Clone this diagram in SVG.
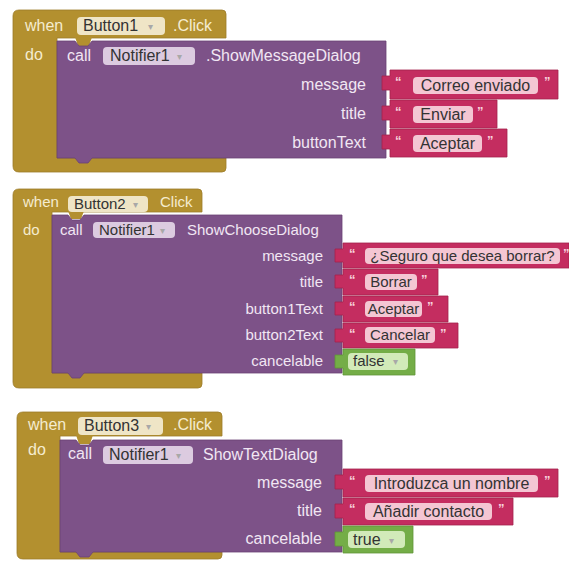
<svg xmlns="http://www.w3.org/2000/svg" width="569" height="563" viewBox="0 0 569 563">
<style>
.gold{fill:#b3902f;stroke:#9c7b28;stroke-width:0.8}
.purple{fill:#7d5288;stroke:#6a4375;stroke-width:0.8}
.pink{fill:#c42d60;stroke:#a3224c;stroke-width:0.8}
.green{fill:#74ad47;stroke:#5f9638;stroke-width:0.8}
.gfield{fill:#efe5c6}
.pfield{fill:#dccbe0}
.kfield{fill:#f4c6d3}
.lfield{fill:#d2eab9}
text{font-family:"Liberation Sans",Arial,sans-serif}
.s16{font-size:16px}
.s15{font-size:15px}
.gt{fill:#f5ecd0}
.pt{fill:#f1e6f3}
.dt{fill:#333333}
.q{fill:#f8d3dd;font-size:13px;font-weight:bold}
.arr{fill:#a8a8a8;font-size:10px}
.end{text-anchor:end}
.mid{text-anchor:middle}
</style>

<g id="event1">
<path class="gold" d="M19,10 H222 Q226,10 226,14 V38 H57 V158 H226 V168 Q226,172 222,172 H19 Q13,172 13,166 V16 Q13,10 19,10 Z"/>
<path fill="#b3902f" d="M75,37 H92 L89,46 H78 Z"/>
<text class="s16 gt" x="25" y="31">when</text>
<rect class="gfield" x="77" y="17" width="88" height="18" rx="4"/>
<text class="s16 dt" x="83" y="31">Button1</text>
<text class="arr" x="148" y="30">▾</text>
<text class="s16 gt" x="173" y="31">.Click</text>
<text class="s16 gt" x="25" y="60">do</text>
</g>
<g id="call1">
<path class="purple" d="M57,41 H75 L79,46 H88 L92,41 H386 V158 H92 L88,163 H79 L75,158 H57 Z"/>
<text class="s16 pt" x="67" y="61">call</text>
<rect class="pfield" x="103" y="47" width="92" height="18" rx="4"/>
<text class="s16 dt" x="110" y="61">Notifier1</text>
<text class="arr" x="177" y="60">▾</text>
<text class="s16 pt" x="206" y="61">.ShowMessageDialog</text>
<text class="s16 pt end" x="366" y="90">message</text>
<text class="s16 pt end" x="366" y="119">title</text>
<text class="s16 pt end" x="366" y="148">buttonText</text>
</g>
<g id="text1a">
<path class="pink" d="M390,70 H558 V99 H390 V90 H382 V76 H390 Z"/>
<text class="q" x="395" y="86">“</text>
<rect class="kfield" x="413" y="77" width="125" height="17" rx="4"/>
<text class="s16 dt mid" x="475.5" y="91">Correo enviado</text>
<text class="q" x="544" y="86">”</text>
</g>
<g id="text1b">
<path class="pink" d="M390,100 H497 V128 H390 V120 H382 V106 H390 Z"/>
<text class="q" x="395" y="116">“</text>
<rect class="kfield" x="413" y="106" width="60" height="17" rx="4"/>
<text class="s16 dt mid" x="443" y="120">Enviar</text>
<text class="q" x="477" y="116">”</text>
</g>
<g id="text1c">
<path class="pink" d="M390,129 H507 V157 H390 V149 H382 V135 H390 Z"/>
<text class="q" x="395" y="145">“</text>
<rect class="kfield" x="413" y="135" width="69" height="17" rx="4"/>
<text class="s16 dt mid" x="447.5" y="149">Aceptar</text>
<text class="q" x="487" y="145">”</text>
</g>

<g id="event2">
<path class="gold" d="M19,189 H198 Q202,189 202,193 V212 H52 V373 H202 V384 Q202,388 198,388 H19 Q13,388 13,382 V195 Q13,189 19,189 Z"/>
<path fill="#b3902f" d="M68,211 H84 L81,219 H71 Z"/>
<text class="s15 gt" x="23" y="207">when</text>
<rect class="gfield" x="68" y="196" width="80" height="16" rx="4"/>
<text class="s15 dt" x="74" y="209">Button2</text>
<text class="arr" x="133" y="208">▾</text>
<text class="s15 gt" x="160" y="207">Click</text>
<text class="s15 gt" x="23" y="235">do</text>
</g>
<g id="call2">
<path class="purple" d="M52,215 H68 L72,220 H80 L84,215 H342 V373 H84 L80,378 H72 L68,373 H52 Z"/>
<text class="s15 pt" x="60" y="235">call</text>
<rect class="pfield" x="93" y="222" width="82" height="16" rx="4"/>
<text class="s15 dt" x="99" y="235">Notifier1</text>
<text class="arr" x="160" y="234">▾</text>
<text class="s15 pt" x="187" y="235">ShowChooseDialog</text>
<text class="s15 pt end" x="323" y="261">message</text>
<text class="s15 pt end" x="323" y="287">title</text>
<text class="s15 pt end" x="323" y="314">button1Text</text>
<text class="s15 pt end" x="323" y="340">button2Text</text>
<text class="s15 pt end" x="323" y="366">cancelable</text>
</g>
<g id="text2a">
<path class="pink" d="M343,243 H569 V268 H343 V262 H335 V249 H343 Z"/>
<text class="q" x="349" y="258">“</text>
<rect class="kfield" x="365" y="248" width="195" height="16" rx="4"/>
<text class="s15 dt mid" x="462.5" y="261">¿Seguro que desea borrar?</text>
<text class="q" x="563" y="258">”</text>
</g>
<g id="text2b">
<path class="pink" d="M343,269 H438 V295 H343 V288 H335 V275 H343 Z"/>
<text class="q" x="349" y="284">“</text>
<rect class="kfield" x="365" y="274" width="52" height="16" rx="4"/>
<text class="s15 dt mid" x="391" y="287">Borrar</text>
<text class="q" x="421" y="284">”</text>
</g>
<g id="text2c">
<path class="pink" d="M343,296 H448 V322 H343 V315 H335 V302 H343 Z"/>
<text class="q" x="349" y="311">“</text>
<rect class="kfield" x="365" y="301" width="57" height="16" rx="4"/>
<text class="s15 dt mid" x="393.5" y="314">Aceptar</text>
<text class="q" x="427" y="311">”</text>
</g>
<g id="text2d">
<path class="pink" d="M343,323 H458 V348 H343 V342 H335 V329 H343 Z"/>
<text class="q" x="349" y="338">“</text>
<rect class="kfield" x="365" y="327" width="70" height="16" rx="4"/>
<text class="s15 dt mid" x="400" y="340">Cancelar</text>
<text class="q" x="440" y="338">”</text>
</g>
<g id="bool2">
<path class="green" d="M343,349 H415 V375 H343 V368 H335 V355 H343 Z"/>
<rect class="lfield" x="348" y="353" width="60" height="17" rx="4"/>
<text class="s15 dt" x="353" y="366">false</text>
<text class="arr" x="393" y="365">▾</text>
</g>

<g id="event3">
<path class="gold" d="M23,412 H218 Q222,412 222,416 V436 H60 V552 H222 V555 Q222,559 218,559 H23 Q17,559 17,553 V418 Q17,412 23,412 Z"/>
<path fill="#b3902f" d="M76,435 H93 L90,444 H79 Z"/>
<text class="s16 gt" x="28" y="430">when</text>
<rect class="gfield" x="78" y="417" width="85" height="18" rx="4"/>
<text class="s16 dt" x="84" y="431">Button3</text>
<text class="arr" x="146" y="430">▾</text>
<text class="s16 gt" x="173" y="430">.Click</text>
<text class="s16 gt" x="28" y="455">do</text>
</g>
<g id="call3">
<path class="purple" d="M60,440 H76 L80,445 H89 L93,440 H342 V552 H93 L89,557 H80 L76,552 H60 Z"/>
<text class="s16 pt" x="68" y="459">call</text>
<rect class="pfield" x="103" y="446" width="90" height="18" rx="4"/>
<text class="s16 dt" x="109" y="460">Notifier1</text>
<text class="arr" x="176" y="459">▾</text>
<text class="s16 pt" x="203" y="460">ShowTextDialog</text>
<text class="s16 pt end" x="322" y="488">message</text>
<text class="s16 pt end" x="322" y="516">title</text>
<text class="s16 pt end" x="322" y="544">cancelable</text>
</g>
<g id="text3a">
<path class="pink" d="M343,469 H558 V497 H343 V489 H335 V475 H343 Z"/>
<text class="q" x="349" y="485">“</text>
<rect class="kfield" x="365" y="475" width="173" height="17" rx="4"/>
<text class="s16 dt mid" x="451.5" y="489">Introduzca un nombre</text>
<text class="q" x="544" y="485">”</text>
</g>
<g id="text3b">
<path class="pink" d="M343,498 H513 V525 H343 V518 H335 V504 H343 Z"/>
<text class="q" x="349" y="513">“</text>
<rect class="kfield" x="365" y="503" width="127" height="17" rx="4"/>
<text class="s16 dt mid" x="428.5" y="517">Añadir contacto</text>
<text class="q" x="498" y="513">”</text>
</g>
<g id="bool3">
<path class="green" d="M343,526 H413 V553 H343 V546 H335 V532 H343 Z"/>
<rect class="lfield" x="348" y="531" width="57" height="17" rx="4"/>
<text class="s16 dt" x="353" y="545">true</text>
<text class="arr" x="389" y="544">▾</text>
</g>
<g id="connectors"/>
</svg>
